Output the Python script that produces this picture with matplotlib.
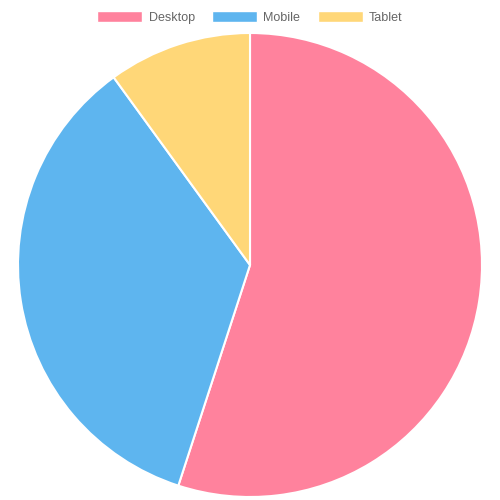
import matplotlib
matplotlib.use("Agg")
import matplotlib.pyplot as plt
from matplotlib.patches import Patch

labels = ["Desktop", "Mobile", "Tablet"]
values = [55, 35, 10]
colors = ["#ff829d", "#5eb5ef", "#ffd778"]

fig = plt.figure(figsize=(5, 5), dpi=100)
ax = fig.add_axes([0.036, 0.006, 0.928, 0.928])
ax.pie(values, colors=colors, startangle=90, counterclock=False, radius=1,
       wedgeprops=dict(edgecolor="white", linewidth=1.5))
ax.set_xlim(-1, 1)
ax.set_ylim(-1, 1)
ax.set_aspect("equal")
ax.axis("off")
handles = [Patch(facecolor=c, edgecolor="white", label=l) for c, l in zip(colors, labels)]
fig.legend(handles=handles, loc="upper center", bbox_to_anchor=(0.5, 1.0), ncol=3,
           frameon=False, handlelength=3.6, handleheight=0.9, handletextpad=0.5,
           columnspacing=1.4, prop={"family": "Liberation Sans", "size": 9}, labelcolor="#666666")
fig.savefig("out.png", dpi=100)
